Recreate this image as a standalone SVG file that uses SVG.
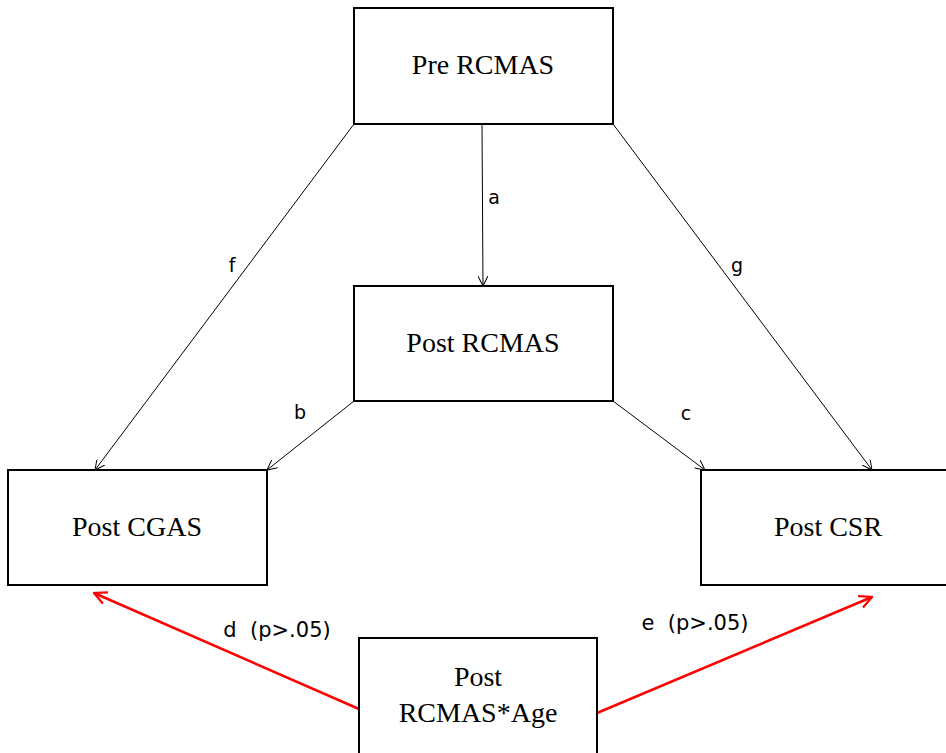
<svg xmlns="http://www.w3.org/2000/svg" width="946" height="753" viewBox="0 0 946 753">
<style>
.box{fill:#fff;stroke:#000;stroke-width:2}
.bt{font-family:"Liberation Serif",serif;font-size:28px;fill:#000;text-anchor:middle}
.lbl{font-family:"DejaVu Sans",sans-serif;font-size:19px;fill:#000;text-anchor:middle}
.lbl2{font-family:"DejaVu Sans",sans-serif;font-size:21px;fill:#000;text-anchor:middle}
.k{stroke:#000;stroke-width:1;fill:none}
.r{stroke:#ff0000;stroke-width:2.5;fill:none}
</style>
<defs>
<marker id="ak" viewBox="0 0 10 10" refX="10" refY="5" markerWidth="10" markerHeight="10" markerUnits="userSpaceOnUse" orient="auto">
<path d="M0,0 L10,5 L0,10" fill="none" stroke="#000" stroke-width="1"/>
</marker>
<marker id="ar" viewBox="0 0 10 10" refX="9" refY="5" markerWidth="14" markerHeight="14" markerUnits="userSpaceOnUse" orient="auto">
<path d="M0,0.5 L9,5 L0,9.5" fill="none" stroke="#ff0000" stroke-width="1.6"/>
</marker>
</defs>
<rect width="946" height="753" fill="#fff"/>
<g id="connectors">
<line class="k" x1="482" y1="124" x2="483" y2="286" marker-end="url(#ak)"/>
<line class="k" x1="354" y1="124" x2="95" y2="470" marker-end="url(#ak)"/>
<line class="k" x1="613" y1="124" x2="872" y2="470" marker-end="url(#ak)"/>
<line class="k" x1="354" y1="401" x2="267" y2="470" marker-end="url(#ak)"/>
<line class="k" x1="613" y1="401" x2="705" y2="470" marker-end="url(#ak)"/>
<line class="r" x1="359" y1="709" x2="94" y2="593" marker-end="url(#ar)"/>
<line class="r" x1="597" y1="713" x2="872" y2="597" marker-end="url(#ar)"/>
<text class="lbl" x="494" y="204">a</text>
<text class="lbl" x="232" y="272">f</text>
<text class="lbl" x="737" y="272">g</text>
<text class="lbl" x="300" y="419">b</text>
<text class="lbl" x="686" y="420">c</text>
<text class="lbl2" x="277" y="637" xml:space="preserve">d  (p&gt;.05)</text>
<text class="lbl2" x="695" y="630" xml:space="preserve">e  (p&gt;.05)</text>
</g>
<g id="pre-rcmas">
<rect class="box" x="354" y="8" width="259" height="116"/>
<text class="bt" x="483" y="74">Pre RCMAS</text>
</g>
<g id="post-rcmas">
<rect class="box" x="354" y="286" width="259" height="115"/>
<text class="bt" x="483" y="352">Post RCMAS</text>
</g>
<g id="post-cgas">
<rect class="box" x="8" y="470" width="259" height="115"/>
<text class="bt" x="137" y="536">Post CGAS</text>
</g>
<g id="post-csr">
<rect class="box" x="701" y="470" width="260" height="115"/>
<text class="bt" x="828" y="536">Post CSR</text>
</g>
<g id="post-rcmas-age">
<rect class="box" x="359" y="638" width="238" height="130"/>
<text class="bt" x="478" y="686">Post</text>
<text class="bt" x="478" y="722">RCMAS*Age</text>
</g>
</svg>
